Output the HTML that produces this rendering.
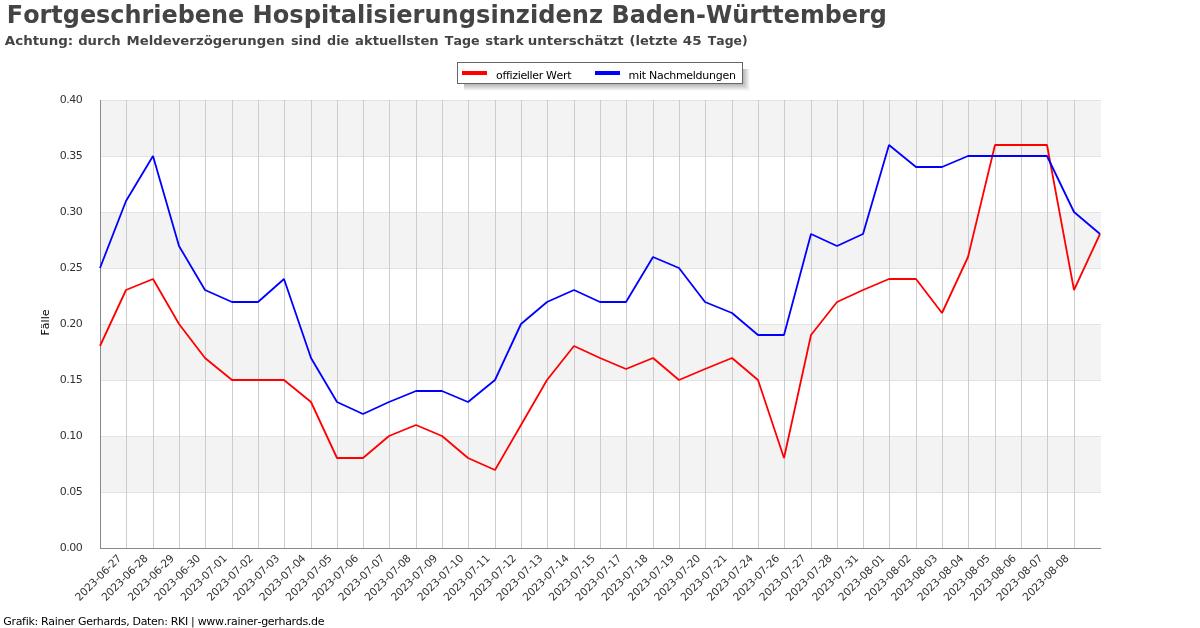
<!DOCTYPE html>
<html lang="de"><head><meta charset="utf-8"><title>Fortgeschriebene Hospitalisierungsinzidenz Baden-Württemberg</title>
<style>html,body{margin:0;padding:0;background:#fff}body{width:1200px;height:628px;overflow:hidden}svg{display:block}text{font-family:"DejaVu Sans","Liberation Sans",sans-serif;font-variant-ligatures:none;font-kerning:none}</style></head><body>
<svg width="1200" height="628" viewBox="0 0 1200 628">
<rect width="1200" height="628" fill="#fff"/>
<rect x="100" y="436.0" width="1001" height="56.0" fill="#f3f3f3"/>
<rect x="100" y="324.0" width="1001" height="56.0" fill="#f3f3f3"/>
<rect x="100" y="212.0" width="1001" height="56.0" fill="#f3f3f3"/>
<rect x="100" y="100.0" width="1001" height="56.0" fill="#f3f3f3"/>
<line x1="100" y1="548.5" x2="1101" y2="548.5" stroke="#e3e3e3" stroke-width="1"/>
<line x1="100" y1="492.5" x2="1101" y2="492.5" stroke="#e3e3e3" stroke-width="1"/>
<line x1="100" y1="436.5" x2="1101" y2="436.5" stroke="#e3e3e3" stroke-width="1"/>
<line x1="100" y1="380.5" x2="1101" y2="380.5" stroke="#e3e3e3" stroke-width="1"/>
<line x1="100" y1="324.5" x2="1101" y2="324.5" stroke="#e3e3e3" stroke-width="1"/>
<line x1="100" y1="268.5" x2="1101" y2="268.5" stroke="#e3e3e3" stroke-width="1"/>
<line x1="100" y1="212.5" x2="1101" y2="212.5" stroke="#e3e3e3" stroke-width="1"/>
<line x1="100" y1="156.5" x2="1101" y2="156.5" stroke="#e3e3e3" stroke-width="1"/>
<line x1="100" y1="100.5" x2="1101" y2="100.5" stroke="#e3e3e3" stroke-width="1"/>
<line x1="126.5" y1="100" x2="126.5" y2="548" stroke="#cccccc" stroke-width="1"/>
<line x1="153.5" y1="100" x2="153.5" y2="548" stroke="#cccccc" stroke-width="1"/>
<line x1="179.5" y1="100" x2="179.5" y2="548" stroke="#cccccc" stroke-width="1"/>
<line x1="205.5" y1="100" x2="205.5" y2="548" stroke="#cccccc" stroke-width="1"/>
<line x1="232.5" y1="100" x2="232.5" y2="548" stroke="#cccccc" stroke-width="1"/>
<line x1="258.5" y1="100" x2="258.5" y2="548" stroke="#cccccc" stroke-width="1"/>
<line x1="284.5" y1="100" x2="284.5" y2="548" stroke="#cccccc" stroke-width="1"/>
<line x1="311.5" y1="100" x2="311.5" y2="548" stroke="#cccccc" stroke-width="1"/>
<line x1="337.5" y1="100" x2="337.5" y2="548" stroke="#cccccc" stroke-width="1"/>
<line x1="363.5" y1="100" x2="363.5" y2="548" stroke="#cccccc" stroke-width="1"/>
<line x1="389.5" y1="100" x2="389.5" y2="548" stroke="#cccccc" stroke-width="1"/>
<line x1="416.5" y1="100" x2="416.5" y2="548" stroke="#cccccc" stroke-width="1"/>
<line x1="442.5" y1="100" x2="442.5" y2="548" stroke="#cccccc" stroke-width="1"/>
<line x1="468.5" y1="100" x2="468.5" y2="548" stroke="#cccccc" stroke-width="1"/>
<line x1="495.5" y1="100" x2="495.5" y2="548" stroke="#cccccc" stroke-width="1"/>
<line x1="521.5" y1="100" x2="521.5" y2="548" stroke="#cccccc" stroke-width="1"/>
<line x1="547.5" y1="100" x2="547.5" y2="548" stroke="#cccccc" stroke-width="1"/>
<line x1="574.5" y1="100" x2="574.5" y2="548" stroke="#cccccc" stroke-width="1"/>
<line x1="600.5" y1="100" x2="600.5" y2="548" stroke="#cccccc" stroke-width="1"/>
<line x1="626.5" y1="100" x2="626.5" y2="548" stroke="#cccccc" stroke-width="1"/>
<line x1="653.5" y1="100" x2="653.5" y2="548" stroke="#cccccc" stroke-width="1"/>
<line x1="679.5" y1="100" x2="679.5" y2="548" stroke="#cccccc" stroke-width="1"/>
<line x1="705.5" y1="100" x2="705.5" y2="548" stroke="#cccccc" stroke-width="1"/>
<line x1="732.5" y1="100" x2="732.5" y2="548" stroke="#cccccc" stroke-width="1"/>
<line x1="758.5" y1="100" x2="758.5" y2="548" stroke="#cccccc" stroke-width="1"/>
<line x1="784.5" y1="100" x2="784.5" y2="548" stroke="#cccccc" stroke-width="1"/>
<line x1="811.5" y1="100" x2="811.5" y2="548" stroke="#cccccc" stroke-width="1"/>
<line x1="837.5" y1="100" x2="837.5" y2="548" stroke="#cccccc" stroke-width="1"/>
<line x1="863.5" y1="100" x2="863.5" y2="548" stroke="#cccccc" stroke-width="1"/>
<line x1="889.5" y1="100" x2="889.5" y2="548" stroke="#cccccc" stroke-width="1"/>
<line x1="916.5" y1="100" x2="916.5" y2="548" stroke="#cccccc" stroke-width="1"/>
<line x1="942.5" y1="100" x2="942.5" y2="548" stroke="#cccccc" stroke-width="1"/>
<line x1="968.5" y1="100" x2="968.5" y2="548" stroke="#cccccc" stroke-width="1"/>
<line x1="995.5" y1="100" x2="995.5" y2="548" stroke="#cccccc" stroke-width="1"/>
<line x1="1021.5" y1="100" x2="1021.5" y2="548" stroke="#cccccc" stroke-width="1"/>
<line x1="1047.5" y1="100" x2="1047.5" y2="548" stroke="#cccccc" stroke-width="1"/>
<line x1="1074.5" y1="100" x2="1074.5" y2="548" stroke="#cccccc" stroke-width="1"/>
<line x1="100.5" y1="100" x2="100.5" y2="549" stroke="#888" stroke-width="1"/>
<line x1="100" y1="548.5" x2="1101" y2="548.5" stroke="#888" stroke-width="1"/>
<text x="59.7" y="551.0" font-size="11" fill="#333" letter-spacing="-0.45">0.00</text>
<text x="59.7" y="495.0" font-size="11" fill="#333" letter-spacing="-0.45">0.05</text>
<text x="59.7" y="439.0" font-size="11" fill="#333" letter-spacing="-0.45">0.10</text>
<text x="59.7" y="383.0" font-size="11" fill="#333" letter-spacing="-0.45">0.15</text>
<text x="59.7" y="327.0" font-size="11" fill="#333" letter-spacing="-0.45">0.20</text>
<text x="59.7" y="271.0" font-size="11" fill="#333" letter-spacing="-0.45">0.25</text>
<text x="59.7" y="215.0" font-size="11" fill="#333" letter-spacing="-0.45">0.30</text>
<text x="59.7" y="159.0" font-size="11" fill="#333" letter-spacing="-0.45">0.35</text>
<text x="59.7" y="103.0" font-size="11" fill="#333" letter-spacing="-0.45">0.40</text>
<text transform="translate(49,322.5) rotate(-90)" font-size="11" fill="#000" text-anchor="middle">Fälle</text>
<text transform="translate(122.0,559) rotate(-45)" font-size="10.67" letter-spacing="-0.2" fill="#333" text-anchor="end">2023-06-27</text>
<text transform="translate(148.3,559) rotate(-45)" font-size="10.67" letter-spacing="-0.2" fill="#333" text-anchor="end">2023-06-28</text>
<text transform="translate(174.6,559) rotate(-45)" font-size="10.67" letter-spacing="-0.2" fill="#333" text-anchor="end">2023-06-29</text>
<text transform="translate(200.9,559) rotate(-45)" font-size="10.67" letter-spacing="-0.2" fill="#333" text-anchor="end">2023-06-30</text>
<text transform="translate(227.3,559) rotate(-45)" font-size="10.67" letter-spacing="-0.2" fill="#333" text-anchor="end">2023-07-01</text>
<text transform="translate(253.6,559) rotate(-45)" font-size="10.67" letter-spacing="-0.2" fill="#333" text-anchor="end">2023-07-02</text>
<text transform="translate(279.9,559) rotate(-45)" font-size="10.67" letter-spacing="-0.2" fill="#333" text-anchor="end">2023-07-03</text>
<text transform="translate(306.2,559) rotate(-45)" font-size="10.67" letter-spacing="-0.2" fill="#333" text-anchor="end">2023-07-04</text>
<text transform="translate(332.5,559) rotate(-45)" font-size="10.67" letter-spacing="-0.2" fill="#333" text-anchor="end">2023-07-05</text>
<text transform="translate(358.8,559) rotate(-45)" font-size="10.67" letter-spacing="-0.2" fill="#333" text-anchor="end">2023-07-06</text>
<text transform="translate(385.2,559) rotate(-45)" font-size="10.67" letter-spacing="-0.2" fill="#333" text-anchor="end">2023-07-07</text>
<text transform="translate(411.5,559) rotate(-45)" font-size="10.67" letter-spacing="-0.2" fill="#333" text-anchor="end">2023-07-08</text>
<text transform="translate(437.8,559) rotate(-45)" font-size="10.67" letter-spacing="-0.2" fill="#333" text-anchor="end">2023-07-09</text>
<text transform="translate(464.1,559) rotate(-45)" font-size="10.67" letter-spacing="-0.2" fill="#333" text-anchor="end">2023-07-10</text>
<text transform="translate(490.4,559) rotate(-45)" font-size="10.67" letter-spacing="-0.2" fill="#333" text-anchor="end">2023-07-11</text>
<text transform="translate(516.7,559) rotate(-45)" font-size="10.67" letter-spacing="-0.2" fill="#333" text-anchor="end">2023-07-12</text>
<text transform="translate(543.1,559) rotate(-45)" font-size="10.67" letter-spacing="-0.2" fill="#333" text-anchor="end">2023-07-13</text>
<text transform="translate(569.4,559) rotate(-45)" font-size="10.67" letter-spacing="-0.2" fill="#333" text-anchor="end">2023-07-14</text>
<text transform="translate(595.7,559) rotate(-45)" font-size="10.67" letter-spacing="-0.2" fill="#333" text-anchor="end">2023-07-15</text>
<text transform="translate(622.0,559) rotate(-45)" font-size="10.67" letter-spacing="-0.2" fill="#333" text-anchor="end">2023-07-17</text>
<text transform="translate(648.3,559) rotate(-45)" font-size="10.67" letter-spacing="-0.2" fill="#333" text-anchor="end">2023-07-18</text>
<text transform="translate(674.6,559) rotate(-45)" font-size="10.67" letter-spacing="-0.2" fill="#333" text-anchor="end">2023-07-19</text>
<text transform="translate(700.9,559) rotate(-45)" font-size="10.67" letter-spacing="-0.2" fill="#333" text-anchor="end">2023-07-20</text>
<text transform="translate(727.3,559) rotate(-45)" font-size="10.67" letter-spacing="-0.2" fill="#333" text-anchor="end">2023-07-21</text>
<text transform="translate(753.6,559) rotate(-45)" font-size="10.67" letter-spacing="-0.2" fill="#333" text-anchor="end">2023-07-24</text>
<text transform="translate(779.9,559) rotate(-45)" font-size="10.67" letter-spacing="-0.2" fill="#333" text-anchor="end">2023-07-26</text>
<text transform="translate(806.2,559) rotate(-45)" font-size="10.67" letter-spacing="-0.2" fill="#333" text-anchor="end">2023-07-27</text>
<text transform="translate(832.5,559) rotate(-45)" font-size="10.67" letter-spacing="-0.2" fill="#333" text-anchor="end">2023-07-28</text>
<text transform="translate(858.8,559) rotate(-45)" font-size="10.67" letter-spacing="-0.2" fill="#333" text-anchor="end">2023-07-31</text>
<text transform="translate(885.2,559) rotate(-45)" font-size="10.67" letter-spacing="-0.2" fill="#333" text-anchor="end">2023-08-01</text>
<text transform="translate(911.5,559) rotate(-45)" font-size="10.67" letter-spacing="-0.2" fill="#333" text-anchor="end">2023-08-02</text>
<text transform="translate(937.8,559) rotate(-45)" font-size="10.67" letter-spacing="-0.2" fill="#333" text-anchor="end">2023-08-03</text>
<text transform="translate(964.1,559) rotate(-45)" font-size="10.67" letter-spacing="-0.2" fill="#333" text-anchor="end">2023-08-04</text>
<text transform="translate(990.4,559) rotate(-45)" font-size="10.67" letter-spacing="-0.2" fill="#333" text-anchor="end">2023-08-05</text>
<text transform="translate(1016.7,559) rotate(-45)" font-size="10.67" letter-spacing="-0.2" fill="#333" text-anchor="end">2023-08-06</text>
<text transform="translate(1043.1,559) rotate(-45)" font-size="10.67" letter-spacing="-0.2" fill="#333" text-anchor="end">2023-08-07</text>
<text transform="translate(1069.4,559) rotate(-45)" font-size="10.67" letter-spacing="-0.2" fill="#333" text-anchor="end">2023-08-08</text>
<polyline points="100,346 126,290 153,279 179,324 205,358 232,380 258,380 284,380 311,402 337,458 363,458 389,436 416,425 442,436 468,458 495,470 521,425 547,380 574,346 600,358 626,369 653,358 679,380 705,369 732,358 758,380 784,458 811,335 837,302 863,290 889,279 916,279 942,313 968,257 995,145 1021,145 1047,145 1074,290 1100,234" fill="none" stroke="#ff0000" stroke-width="1.8" stroke-linejoin="bevel"/>
<polyline points="100,268 126,201 153,156 179,246 205,290 232,302 258,302 284,279 311,358 337,402 363,414 389,402 416,391 442,391 468,402 495,380 521,324 547,302 574,290 600,302 626,302 653,257 679,268 705,302 732,313 758,335 784,335 811,234 837,246 863,234 889,145 916,167 942,167 968,156 995,156 1021,156 1047,156 1074,212 1100,234" fill="none" stroke="#0000ff" stroke-width="1.8" stroke-linejoin="bevel"/>
<text y="23" font-size="24.0" font-weight="bold" fill="#444">
<tspan x="6.80" textLength="237.50" lengthAdjust="spacingAndGlyphs">Fortgeschriebene</tspan> 
<tspan x="252.50" textLength="350.50" lengthAdjust="spacingAndGlyphs">Hospitalisierungsinzidenz</tspan> 
<tspan x="611.50" textLength="275.30" lengthAdjust="spacingAndGlyphs">Baden-Württemberg</tspan>
</text>
<text y="45" font-size="12.2" font-weight="bold" fill="#444">
<tspan x="4.80" textLength="68.40" lengthAdjust="spacingAndGlyphs">Achtung:</tspan> 
<tspan x="78.20" textLength="42.50" lengthAdjust="spacingAndGlyphs">durch</tspan> 
<tspan x="126.50" textLength="158.10" lengthAdjust="spacingAndGlyphs">Meldeverzögerungen</tspan> 
<tspan x="290.90" textLength="30.30" lengthAdjust="spacingAndGlyphs">sind</tspan> 
<tspan x="327.00" textLength="22.15" lengthAdjust="spacingAndGlyphs">die</tspan> 
<tspan x="355.10" textLength="83.60" lengthAdjust="spacingAndGlyphs">aktuellsten</tspan> 
<tspan x="444.80" textLength="34.80" lengthAdjust="spacingAndGlyphs">Tage</tspan> 
<tspan x="485.30" textLength="38.40" lengthAdjust="spacingAndGlyphs">stark</tspan> 
<tspan x="527.80" textLength="95.90" lengthAdjust="spacingAndGlyphs">unterschätzt</tspan> 
<tspan x="629.50" textLength="48.10" lengthAdjust="spacingAndGlyphs">(letzte</tspan> 
<tspan x="682.80" textLength="18.80" lengthAdjust="spacingAndGlyphs">45</tspan> 
<tspan x="707.80" textLength="39.80" lengthAdjust="spacingAndGlyphs">Tage)</tspan>
</text>
<defs><linearGradient id="gv" x1="0" y1="0" x2="0" y2="1"><stop offset="0" stop-color="#b4b4b4"/><stop offset="1" stop-color="#ffffff"/></linearGradient><linearGradient id="gh" x1="0" y1="0" x2="1" y2="0"><stop offset="0" stop-color="#b4b4b4"/><stop offset="1" stop-color="#ffffff"/></linearGradient></defs>
<polygon points="464,84 743,84 750,91 464,91" fill="url(#gv)"/>
<polygon points="743,69 750,69 750,91 743,84" fill="url(#gh)"/>
<rect x="457.5" y="62.5" width="285" height="21" fill="#fff" stroke="#666" stroke-width="1"/>
<rect x="462" y="71" width="25" height="4" fill="#ff0000"/>
<text x="496" y="79" font-size="11" letter-spacing="-0.33" fill="#000">offizieller Wert</text>
<rect x="595" y="71" width="25" height="4" fill="#0000ff"/>
<text x="628.6" y="79" font-size="11" letter-spacing="-0.28" fill="#000">mit Nachmeldungen</text>
<text x="3.3" y="625" font-size="11" letter-spacing="-0.32" fill="#000">Grafik: Rainer Gerhards, Daten: RKI | www.rainer-gerhards.de</text>
</svg></body></html>
